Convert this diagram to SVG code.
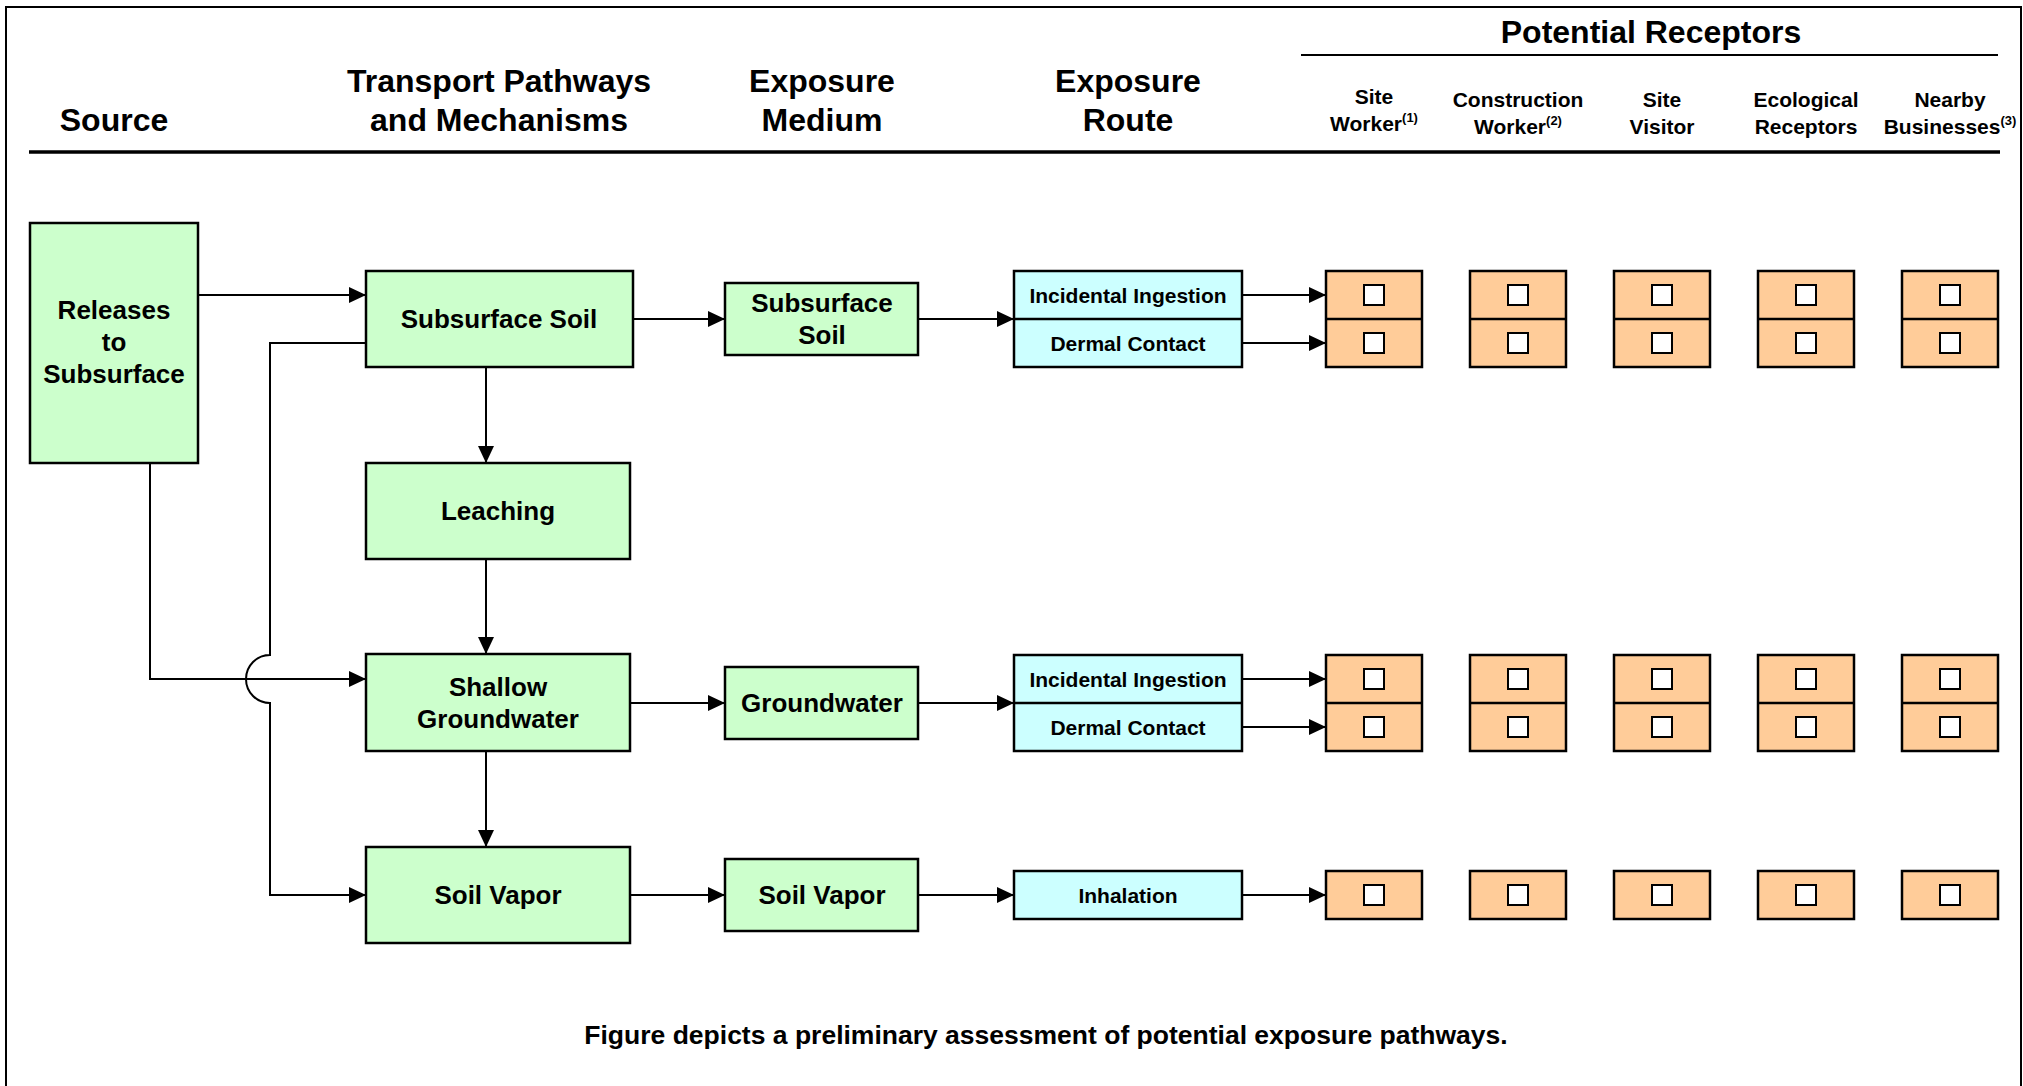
<svg xmlns="http://www.w3.org/2000/svg" width="2023" height="1086" viewBox="0 0 2023 1086">
<defs>
<style>
.t{font-family:"Liberation Sans",Arial,Helvetica,sans-serif;font-weight:bold;text-anchor:middle;fill:#000}
.h{font-size:32px}
.rh{font-size:21px}
.n{font-size:26px}
.r{font-size:21px}
.sup{font-size:13px}
.g{fill:#CCFFCC;stroke:#000;stroke-width:2.5}
.c{fill:#CCFFFF;stroke:#000;stroke-width:2.5}
.o{fill:#FFCC99;stroke:#000;stroke-width:2.5}
.dv{stroke:#000;stroke-width:2.5}
.chk{fill:#fff;stroke:#000;stroke-width:2}
.conn path,.conn line{fill:none;stroke:#000;stroke-width:2}
</style>
<marker id="ah" markerUnits="userSpaceOnUse" markerWidth="17" markerHeight="16" refX="17" refY="8" orient="auto">
<path d="M0,0 L17,8 L0,16 z" fill="#000"/>
</marker>
</defs>
<rect x="0" y="0" width="2023" height="1086" fill="#fff"/>
<rect x="6" y="7" width="2015" height="1100" fill="none" stroke="#000" stroke-width="2"/>

<g id="headers">
<text class="t h" x="114" y="131">Source</text>
<text class="t h" x="499" y="92">Transport Pathways</text>
<text class="t h" x="499" y="131">and Mechanisms</text>
<text class="t h" x="822" y="92">Exposure</text>
<text class="t h" x="822" y="131">Medium</text>
<text class="t h" x="1128" y="92">Exposure</text>
<text class="t h" x="1128" y="131">Route</text>
<text class="t h" x="1651" y="43">Potential Receptors</text>
<line x1="1301" y1="55" x2="1998" y2="55" stroke="#000" stroke-width="2"/>
<text class="t rh" x="1374" y="104">Site</text>
<text class="t rh" x="1374" y="131">Worker<tspan class="sup" dy="-9">(1)</tspan></text>
<text class="t rh" x="1518" y="107">Construction</text>
<text class="t rh" x="1518" y="134">Worker<tspan class="sup" dy="-9">(2)</tspan></text>
<text class="t rh" x="1662" y="107">Site</text>
<text class="t rh" x="1662" y="134">Visitor</text>
<text class="t rh" x="1806" y="107">Ecological</text>
<text class="t rh" x="1806" y="134">Receptors</text>
<text class="t rh" x="1950" y="107">Nearby</text>
<text class="t rh" x="1950" y="134">Businesses<tspan class="sup" dy="-9">(3)</tspan></text>
<line x1="29" y1="152" x2="2000" y2="152" stroke="#000" stroke-width="3.5"/>
</g>

<g id="releases">
<rect class="g" x="30" y="223" width="168" height="240"/>
<text class="t n" x="114" y="319">Releases</text>
<text class="t n" x="114" y="351">to</text>
<text class="t n" x="114" y="383">Subsurface</text>
</g>
<g id="subsurface-soil">
<rect class="g" x="366" y="271" width="267" height="96"/>
<text class="t n" x="499" y="328">Subsurface Soil</text>
</g>
<g id="leaching">
<rect class="g" x="366" y="463" width="264" height="96"/>
<text class="t n" x="498" y="520">Leaching</text>
</g>
<g id="shallow-groundwater">
<rect class="g" x="366" y="654" width="264" height="97"/>
<text class="t n" x="498" y="696">Shallow</text>
<text class="t n" x="498" y="728">Groundwater</text>
</g>
<g id="soil-vapor">
<rect class="g" x="366" y="847" width="264" height="96"/>
<text class="t n" x="498" y="904">Soil Vapor</text>
</g>

<g id="medium-subsurface-soil">
<rect class="g" x="725" y="283" width="193" height="72"/>
<text class="t n" x="822" y="312">Subsurface</text>
<text class="t n" x="822" y="344">Soil</text>
</g>
<g id="medium-groundwater">
<rect class="g" x="725" y="667" width="193" height="72"/>
<text class="t n" x="822" y="712">Groundwater</text>
</g>
<g id="medium-soil-vapor">
<rect class="g" x="725" y="859" width="193" height="72"/>
<text class="t n" x="822" y="904">Soil Vapor</text>
</g>

<g id="route-soil">
<rect class="c" x="1014" y="271" width="228" height="96"/>
<line class="dv" x1="1014" y1="319" x2="1242" y2="319"/>
<text class="t r" x="1128" y="302.5">Incidental Ingestion</text>
<text class="t r" x="1128" y="350.5">Dermal Contact</text>
</g>
<g id="route-groundwater">
<rect class="c" x="1014" y="655" width="228" height="96"/>
<line class="dv" x1="1014" y1="703" x2="1242" y2="703"/>
<text class="t r" x="1128" y="686.5">Incidental Ingestion</text>
<text class="t r" x="1128" y="734.5">Dermal Contact</text>
</g>
<g id="route-vapor">
<rect class="c" x="1014" y="871" width="228" height="48"/>
<text class="t r" x="1128" y="902.5">Inhalation</text>
</g>

<g id="receptors-soil">
<g id="rs1"><rect class="o" x="1326" y="271" width="96" height="96"/><line class="dv" x1="1326" y1="319" x2="1422" y2="319"/><rect class="chk" x="1364" y="285" width="20" height="20"/><rect class="chk" x="1364" y="333" width="20" height="20"/></g>
<g id="rs2"><rect class="o" x="1470" y="271" width="96" height="96"/><line class="dv" x1="1470" y1="319" x2="1566" y2="319"/><rect class="chk" x="1508" y="285" width="20" height="20"/><rect class="chk" x="1508" y="333" width="20" height="20"/></g>
<g id="rs3"><rect class="o" x="1614" y="271" width="96" height="96"/><line class="dv" x1="1614" y1="319" x2="1710" y2="319"/><rect class="chk" x="1652" y="285" width="20" height="20"/><rect class="chk" x="1652" y="333" width="20" height="20"/></g>
<g id="rs4"><rect class="o" x="1758" y="271" width="96" height="96"/><line class="dv" x1="1758" y1="319" x2="1854" y2="319"/><rect class="chk" x="1796" y="285" width="20" height="20"/><rect class="chk" x="1796" y="333" width="20" height="20"/></g>
<g id="rs5"><rect class="o" x="1902" y="271" width="96" height="96"/><line class="dv" x1="1902" y1="319" x2="1998" y2="319"/><rect class="chk" x="1940" y="285" width="20" height="20"/><rect class="chk" x="1940" y="333" width="20" height="20"/></g>
</g>
<g id="receptors-groundwater">
<g id="rg1"><rect class="o" x="1326" y="655" width="96" height="96"/><line class="dv" x1="1326" y1="703" x2="1422" y2="703"/><rect class="chk" x="1364" y="669" width="20" height="20"/><rect class="chk" x="1364" y="717" width="20" height="20"/></g>
<g id="rg2"><rect class="o" x="1470" y="655" width="96" height="96"/><line class="dv" x1="1470" y1="703" x2="1566" y2="703"/><rect class="chk" x="1508" y="669" width="20" height="20"/><rect class="chk" x="1508" y="717" width="20" height="20"/></g>
<g id="rg3"><rect class="o" x="1614" y="655" width="96" height="96"/><line class="dv" x1="1614" y1="703" x2="1710" y2="703"/><rect class="chk" x="1652" y="669" width="20" height="20"/><rect class="chk" x="1652" y="717" width="20" height="20"/></g>
<g id="rg4"><rect class="o" x="1758" y="655" width="96" height="96"/><line class="dv" x1="1758" y1="703" x2="1854" y2="703"/><rect class="chk" x="1796" y="669" width="20" height="20"/><rect class="chk" x="1796" y="717" width="20" height="20"/></g>
<g id="rg5"><rect class="o" x="1902" y="655" width="96" height="96"/><line class="dv" x1="1902" y1="703" x2="1998" y2="703"/><rect class="chk" x="1940" y="669" width="20" height="20"/><rect class="chk" x="1940" y="717" width="20" height="20"/></g>
</g>
<g id="receptors-vapor">
<g id="rv1"><rect class="o" x="1326" y="871" width="96" height="48"/><rect class="chk" x="1364" y="885" width="20" height="20"/></g>
<g id="rv2"><rect class="o" x="1470" y="871" width="96" height="48"/><rect class="chk" x="1508" y="885" width="20" height="20"/></g>
<g id="rv3"><rect class="o" x="1614" y="871" width="96" height="48"/><rect class="chk" x="1652" y="885" width="20" height="20"/></g>
<g id="rv4"><rect class="o" x="1758" y="871" width="96" height="48"/><rect class="chk" x="1796" y="885" width="20" height="20"/></g>
<g id="rv5"><rect class="o" x="1902" y="871" width="96" height="48"/><rect class="chk" x="1940" y="885" width="20" height="20"/></g>
</g>

<g id="connectors" class="conn">
<line x1="198" y1="295" x2="366" y2="295" marker-end="url(#ah)"/>
<path d="M366,343 H270 V655 A24,24 0 0 0 270,703 V895 H366" marker-end="url(#ah)"/>
<path d="M150,463 V679 H366" marker-end="url(#ah)"/>
<line x1="486" y1="367" x2="486" y2="463" marker-end="url(#ah)"/>
<line x1="486" y1="559" x2="486" y2="654" marker-end="url(#ah)"/>
<line x1="486" y1="751" x2="486" y2="847" marker-end="url(#ah)"/>
<line x1="633" y1="319" x2="725" y2="319" marker-end="url(#ah)"/>
<line x1="918" y1="319" x2="1014" y2="319" marker-end="url(#ah)"/>
<line x1="1242" y1="295" x2="1326" y2="295" marker-end="url(#ah)"/>
<line x1="1242" y1="343" x2="1326" y2="343" marker-end="url(#ah)"/>
<line x1="630" y1="703" x2="725" y2="703" marker-end="url(#ah)"/>
<line x1="918" y1="703" x2="1014" y2="703" marker-end="url(#ah)"/>
<line x1="1242" y1="679" x2="1326" y2="679" marker-end="url(#ah)"/>
<line x1="1242" y1="727" x2="1326" y2="727" marker-end="url(#ah)"/>
<line x1="630" y1="895" x2="725" y2="895" marker-end="url(#ah)"/>
<line x1="918" y1="895" x2="1014" y2="895" marker-end="url(#ah)"/>
<line x1="1242" y1="895" x2="1326" y2="895" marker-end="url(#ah)"/>
</g>

<text class="t" x="1046" y="1044" font-size="26.5">Figure depicts a preliminary assessment of potential exposure pathways.</text>
</svg>
